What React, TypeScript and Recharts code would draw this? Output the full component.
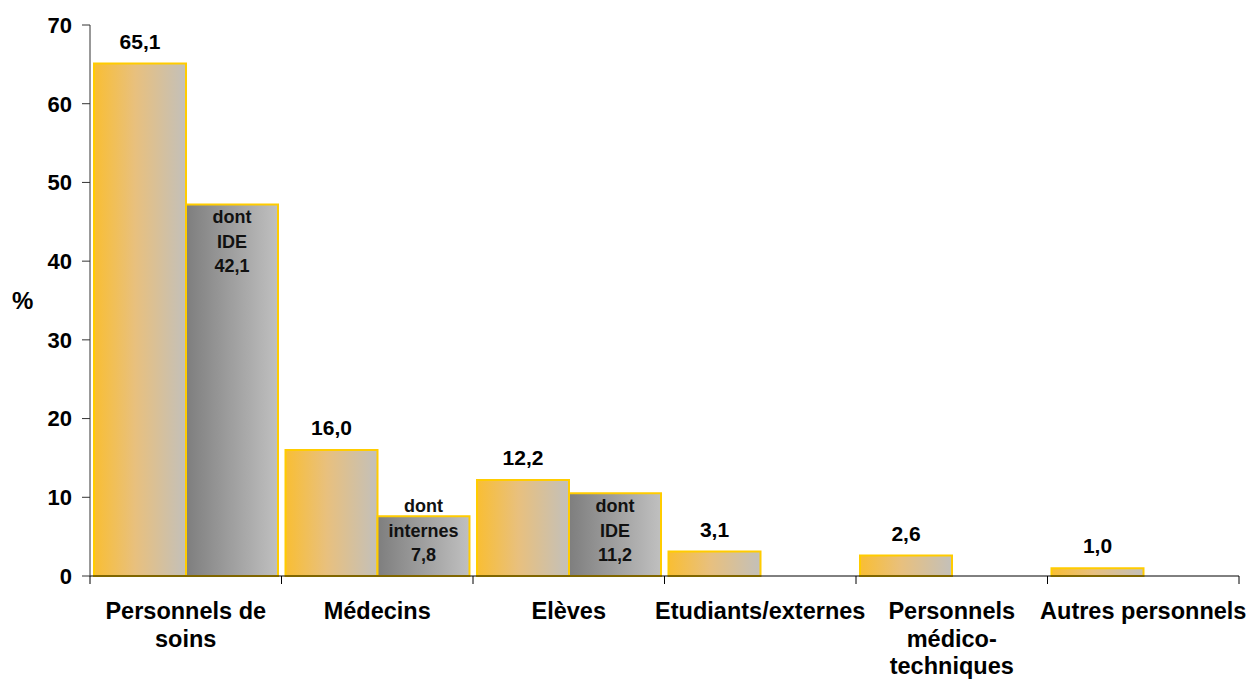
import { BarChart, Bar, XAxis, YAxis, LabelList } from "recharts";

const FONT = "Arial, 'Liberation Sans', sans-serif";

// category labels, "\n" marks line breaks as in the original
const categories = [
  "Personnels de\nsoins",
  "Médecins",
  "Elèves",
  "Etudiants/externes",
  "Personnels\nmédico-\ntechniques",
  "Autres personnels",
];

const totalValues = [65.1, 16.0, 12.2, 3.1, 2.6, 1.0];

// "dont ..." bars as drawn in the picture
const dontValues = [47.2, 7.6, 10.5, null, null, null];
const dontLabels = [
  ["dont", "IDE", "42,1"],
  ["dont", "internes", "7,8"],
  ["dont", "IDE", "11,2"],
  null,
  null,
  null,
];

const yTicks = [0, 10, 20, 30, 40, 50, 60, 70];

const data = categories.map((name, i) => ({
  name,
  total: totalValues[i],
  dont: dontValues[i],
}));

const fmt = (v: number) => v.toFixed(1).replace(".", ",");

function XTick({ x, y, payload }: any) {
  const lines = String(payload.value).split("\n");
  const half = payload.offset ?? 0;
  const isLast = payload.index === categories.length - 1;
  return (
    <g>
      <line x1={x - half} x2={x - half} y1={y} y2={y + 8} stroke="#000" />
      {isLast && <line x1={x + half} x2={x + half} y1={y} y2={y + 8} stroke="#000" />}
      {lines.map((l, i) => (
        <text
          key={i}
          x={x}
          y={y + 43 + i * 27.5}
          textAnchor="middle"
          fontFamily={FONT}
          fontWeight="bold"
          fontSize={23.5}
          fill="#000"
        >
          {l}
        </text>
      ))}
    </g>
  );
}

function TotalLabel({ x, y, width, value }: any) {
  if (value == null) return null;
  return (
    <text
      x={x + width / 2}
      y={y - 15}
      textAnchor="middle"
      fontFamily={FONT}
      fontWeight="bold"
      fontSize={21}
      fill="#000"
    >
      {fmt(value)}
    </text>
  );
}

function DontLabel({ x, y, width, height, index }: any) {
  const lines = dontLabels[index];
  if (!lines) return null;
  const bottom = y + height;
  const first = Math.min(y + 13, bottom - 21 - 2 * 24.5);
  return (
    <g>
      {lines.map((l, i) => (
        <text
          key={i}
          x={x + width / 2}
          y={first + i * 24.5 + 6}
          textAnchor="middle"
          fontFamily={FONT}
          fontWeight="bold"
          fontSize={18}
          fill="#111"
        >
          {l}
        </text>
      ))}
    </g>
  );
}

export default function App() {
  return (
    <div style={{ position: "absolute", left: 0, top: 0, background: "#fff" }}>
      <BarChart
        width={1247}
        height={681}
        data={data}
        margin={{ top: 25, right: 8, left: 0, bottom: 0 }}
        barCategoryGap={4}
        barGap={0}
      >
        <defs>
          <linearGradient id="gradTotal" x1="0" y1="0" x2="1" y2="0">
            <stop offset="0%" stopColor="#F9BE33" />
            <stop offset="45%" stopColor="#E8C07E" />
            <stop offset="100%" stopColor="#C3C0BA" />
          </linearGradient>
          <linearGradient id="gradDont" x1="0" y1="0" x2="1" y2="0">
            <stop offset="0%" stopColor="#7E7E7E" />
            <stop offset="100%" stopColor="#C0C0C0" />
          </linearGradient>
        </defs>
        <XAxis
          dataKey="name"
          interval={0}
          height={105}
          tickSize={0}
          tickMargin={0}
          tickLine={false}
          axisLine={{ stroke: "#000" }}
          tick={<XTick />}
        />
        <YAxis
          width={90}
          domain={[0, 70]}
          ticks={yTicks}
          tickSize={8}
          tickMargin={10}
          axisLine={{ stroke: "#333" }}
          tickLine={{ stroke: "#333" }}
          tick={{ fontFamily: FONT, fontWeight: "bold", fontSize: 22, fill: "#000" }}
          label={{
            value: "%",
            position: "insideLeft",
            offset: 12,
            fontFamily: FONT,
            fontWeight: "bold",
            fontSize: 24,
            fill: "#000",
          }}
        />
        <Bar dataKey="total" fill="url(#gradTotal)" stroke="#FFCC00" strokeWidth={2} isAnimationActive={false}>
          <LabelList dataKey="total" content={<TotalLabel />} />
        </Bar>
        <Bar dataKey="dont" fill="url(#gradDont)" stroke="#FFCC00" strokeWidth={2} isAnimationActive={false}>
          <LabelList dataKey="dont" content={<DontLabel />} />
        </Bar>
      </BarChart>
    </div>
  );
}
